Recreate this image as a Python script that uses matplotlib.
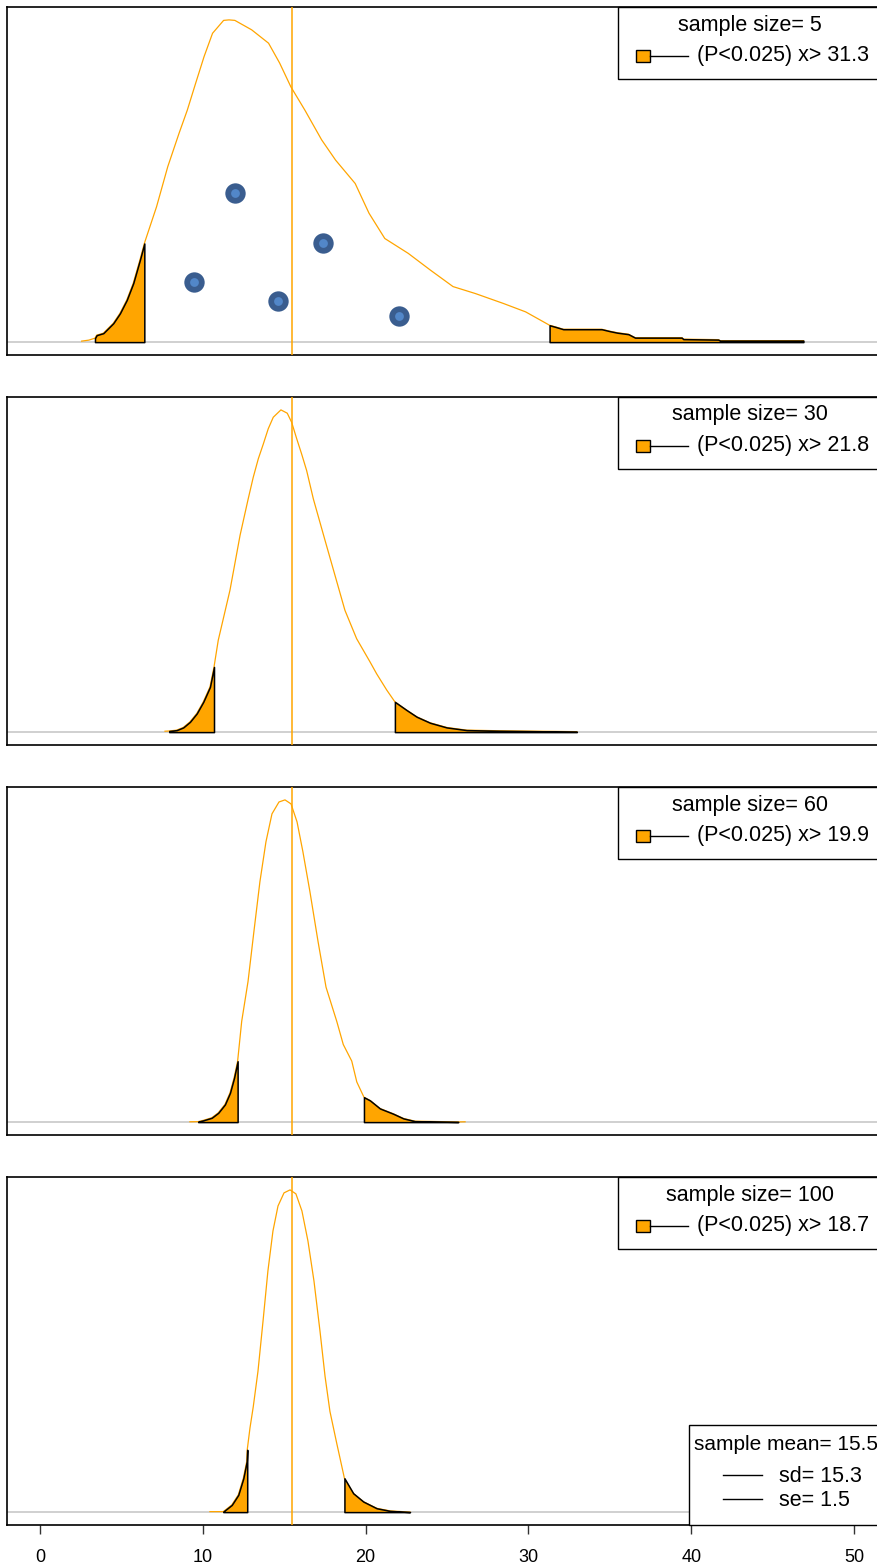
import numpy as np
import matplotlib
matplotlib.use('Agg')
import matplotlib.pyplot as plt
from matplotlib.patches import Rectangle
from matplotlib.lines import Line2D
from matplotlib.transforms import blended_transform_factory

plt.rcParams['font.family'] = ['Liberation Sans', 'DejaVu Sans']

# sample sizes and the cut-offs of the 2.5% tails
sizes = [5, 30, 60, 100]
lower_cut = [6.41, 10.69, 12.14, 12.73]
upper_cut = [31.3, 21.8, 19.9, 18.7]
tail_start = [3.38, 7.94, 9.72, 11.26]
tail_end = [46.89, 32.97, 25.69, 22.73]
sample_mean = 15.5
sample_sd = 15.3
sample_se = 1.5

# the five drawn sample points (first panel)
sample_x = [11.97, 17.36, 9.46, 14.65, 22.07]
sample_y = [0.0300, 0.0200, 0.0122, 0.0083, 0.0052]

# density of the sample mean
dens_x_5 = [2.56, 3.00, 3.38, 3.48, 3.89, 4.50, 4.91, 5.33, 5.73, 6.14,
            6.41, 7.16, 7.85, 8.54, 9.05, 9.56, 10.08, 10.60, 11.28, 11.61,
            11.97, 13.00, 14.04, 14.72, 15.41, 16.27, 17.30, 18.16, 19.36, 20.21,
            21.18, 22.62, 23.99, 25.37, 26.74, 28.46, 29.83, 31.30, 31.63, 32.14,
            34.50, 35.01, 35.46, 36.14, 36.55, 39.42, 39.51, 41.66, 41.77, 46.89]
dens_y_5 = [0.0002, 0.0004, 0.0008, 0.0014, 0.0018, 0.0038, 0.0058, 0.0085, 0.0119, 0.0166,
            0.0199, 0.0273, 0.0354, 0.0421, 0.0468, 0.0522, 0.0576, 0.0623, 0.0649, 0.0650,
            0.0649, 0.0630, 0.0603, 0.0563, 0.0515, 0.0468, 0.0408, 0.0367, 0.0320, 0.0260,
            0.0209, 0.0179, 0.0145, 0.0112, 0.0098, 0.0078, 0.0061, 0.0034, 0.0031, 0.0026,
            0.0026, 0.0022, 0.0019, 0.0016, 0.0009, 0.0009, 0.0006, 0.0005, 0.0003, 0.0003]

dens_x_30 = [7.68, 7.94, 8.40, 8.80, 9.21, 9.63, 10.03, 10.44, 10.69, 10.95,
             11.67, 12.29, 12.79, 13.10, 13.41, 13.72, 14.02, 14.33, 14.80, 15.19,
             15.46, 15.77, 16.07, 16.38, 16.79, 17.51, 18.12, 18.73, 19.45, 19.86,
             20.27, 20.68, 21.30, 21.80, 22.52, 23.14, 23.96, 24.98, 26.21, 28.26, 32.97]
dens_y_30 = [0.0004, 0.0005, 0.0009, 0.0021, 0.0046, 0.0084, 0.0136, 0.0203, 0.0293, 0.0413,
             0.0638, 0.0885, 0.1049, 0.1146, 0.1229, 0.1296, 0.1364, 0.1416, 0.1449, 0.1434,
             0.1393, 0.1319, 0.1251, 0.1176, 0.1049, 0.0862, 0.0705, 0.0548, 0.0420, 0.0368,
             0.0316, 0.0262, 0.0189, 0.0136, 0.0099, 0.0069, 0.0042, 0.0021, 0.0009, 0.0006, 0.0002]

dens_x_60 = [9.21, 9.72, 10.03, 10.55, 10.95, 11.36, 11.67, 11.92, 12.14, 12.39,
             12.78, 13.14, 13.51, 13.88, 14.25, 14.68, 15.05, 15.42, 15.79, 16.15,
             16.58, 17.08, 17.57, 18.23, 18.63, 19.15, 19.46, 19.90, 20.27, 20.88,
             21.70, 22.32, 23.03, 25.18, 25.69, 26.11]
dens_y_60 = [0.0002, 0.0003, 0.0011, 0.0027, 0.0058, 0.0110, 0.0182, 0.0275, 0.0379, 0.0627,
             0.0876, 0.1186, 0.1497, 0.1745, 0.1919, 0.1993, 0.2006, 0.1981, 0.1869, 0.1683,
             0.1435, 0.1124, 0.0840, 0.0627, 0.0483, 0.0380, 0.0250, 0.0155, 0.0135, 0.0085,
             0.0052, 0.0023, 0.0006, 0.0002, 0.0001, 0.0002]

dens_x_100 = [10.44, 11.26, 11.78, 12.18, 12.49, 12.70, 12.73, 12.90, 13.10, 13.39,
              13.70, 14.00, 14.31, 14.62, 14.99, 15.36, 15.72, 16.09, 16.46, 16.83,
              17.20, 17.51, 17.81, 18.22, 18.70, 19.24, 19.86, 20.68, 21.50, 22.73]
dens_y_100 = [0.0004, 0.0004, 0.0058, 0.0139, 0.0273, 0.0409, 0.0503, 0.0680, 0.0850, 0.1137,
              0.1541, 0.1946, 0.2269, 0.2471, 0.2577, 0.2601, 0.2569, 0.2431, 0.2188, 0.1865,
              0.1460, 0.1096, 0.0813, 0.0560, 0.0273, 0.0152, 0.0085, 0.0031, 0.0010, 0.0000]

curves = [(dens_x_5, dens_y_5), (dens_x_30, dens_y_30),
          (dens_x_60, dens_y_60), (dens_x_100, dens_y_100)]

orange = '#FFA500'
W, H = 877, 1567
fig = plt.figure(figsize=(W / 100, H / 100), dpi=100)

# panel boxes in pixels (top, bottom); x range -2..52 spans 7..887 px
panel_px = [(7, 355), (397, 745), (787, 1135), (1177, 1525)]
ax_left = 7.4 / W
ax_width = (886.6 - 7.4) / W
fs = 15.5

for i, (top, bot) in enumerate(panel_px):
    ax = fig.add_axes([ax_left, 1 - bot / H, ax_width, (bot - top) / H])
    x = np.array(curves[i][0])
    y = np.array(curves[i][1])
    ymax = y.max()
    ax.set_xlim(-2, 52)
    ax.set_ylim(-0.04 * ymax, 1.04 * ymax)

    ax.axhline(0, color='#c8c8c8', lw=1.2, zorder=1)
    ax.plot(x, y, color=orange, lw=0.9, zorder=2)

    # the two 2.5% tails
    m = (x >= tail_start[i]) & (x <= lower_cut[i])
    ax.fill_between(x[m], 0, y[m], facecolor=orange, edgecolor='black', lw=1.1, zorder=3)
    m = (x >= upper_cut[i]) & (x <= tail_end[i])
    ax.fill_between(x[m], 0, y[m], facecolor=orange, edgecolor='black', lw=1.1, zorder=3)

    ax.axvline(sample_mean, color=orange, lw=1.1, zorder=4)

    if i == 0:
        ax.scatter(sample_x, sample_y, s=215, color='#3a5d8f', zorder=5, lw=0)
        ax.scatter(sample_x, sample_y, s=40, color='#5287c9', zorder=6, lw=0)

    for sp in ax.spines.values():
        sp.set_linewidth(1.2)
    ax.set_yticks([])
    if i < 3:
        ax.set_xticks([])
    else:
        ax.set_xticks(range(0, 51, 10))
        ax.tick_params(axis='x', length=6.5, width=1.0, labelsize=13, pad=11, color='#333333')

    # legend top right
    tr = blended_transform_factory(ax.transData, ax.transAxes)
    h = bot - top
    ax.add_patch(Rectangle((35.5, 1 - 72 / h), 20, 72 / h, transform=tr, facecolor='white',
                           edgecolor='black', lw=1.0, zorder=7, clip_on=False))
    ax.text(43.6, 1 - 18 / h, 'sample size= %d' % sizes[i], transform=tr, ha='center',
            va='center', fontsize=fs, zorder=8)
    ax.add_patch(Rectangle((36.61, 1 - 55 / h), 0.86, 12 / h, transform=tr, facecolor=orange,
                           edgecolor='black', lw=1.0, zorder=8, clip_on=False))
    ax.add_line(Line2D([37.47, 39.80], [1 - 49 / h, 1 - 49 / h], transform=tr, color='black',
                       lw=1.0, zorder=8, clip_on=False))
    ax.text(40.36, 1 - 49 / h, '(P<0.025) x> %.1f' % upper_cut[i], transform=tr, ha='left',
            va='center', fontsize=fs, zorder=8)

    if i == 3:
        ax.add_patch(Rectangle((39.88, 0), 20, 100 / h, transform=tr, facecolor='white',
                               edgecolor='black', lw=1.0, zorder=7, clip_on=False))
        ax.text(40.20, 80 / h, 'sample mean= %.1f' % sample_mean, transform=tr, ha='left',
                va='center', fontsize=15, zorder=8)
        for yy, lab in [(50 / h, 'sd= %.1f' % sample_sd), (26 / h, 'se= %.1f' % sample_se)]:
            ax.add_line(Line2D([41.95, 44.35], [yy, yy], transform=tr, color='black',
                               lw=1.0, zorder=8, clip_on=False))
            ax.text(45.39, yy - 1 / h, lab, transform=tr, ha='left', va='center',
                    fontsize=fs, zorder=8)

fig.savefig('out.png', dpi=100)
